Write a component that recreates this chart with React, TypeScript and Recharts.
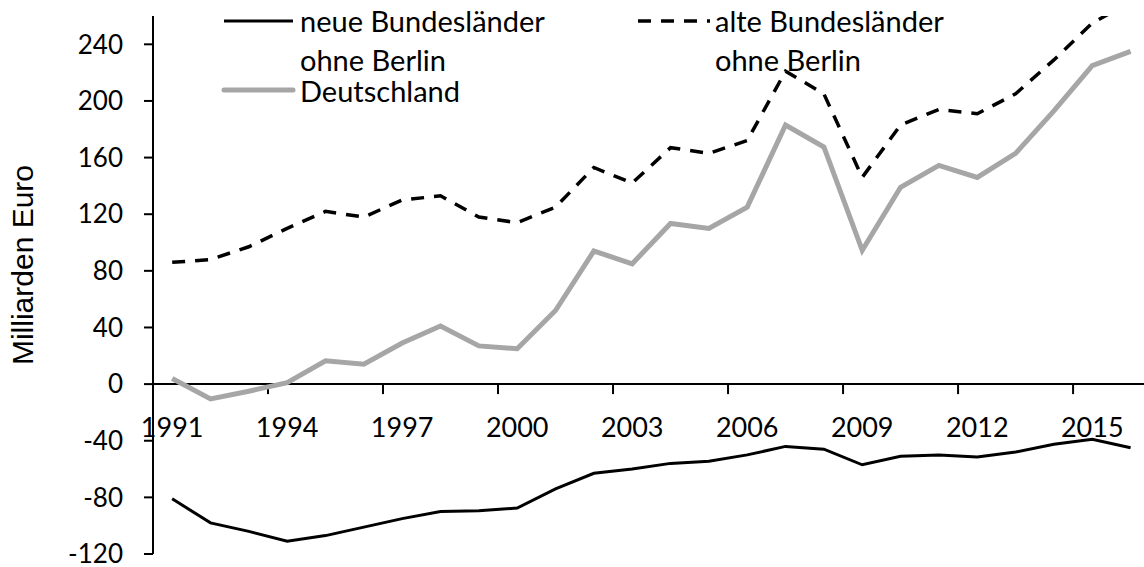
import type React from "react";
import { Line, LineChart, ReferenceLine, XAxis, YAxis } from "recharts";

// Finanzierungssaldo 1991-2016 (Milliarden Euro)
const years = [
	1991, 1992, 1993, 1994, 1995, 1996, 1997, 1998, 1999, 2000, 2001, 2002, 2003,
	2004, 2005, 2006, 2007, 2008, 2009, 2010, 2011, 2012, 2013, 2014, 2015, 2016,
];
const neueLaender = [
	-81, -98, -104, -111, -107, -101, -95, -90, -89.5, -87.5, -74, -63, -60, -56,
	-54.5, -50, -44, -46, -57, -51, -50, -51.5, -48, -42.5, -39, -45,
];
const alteLaender = [
	86, 88, 97, 110, 122, 118, 130, 133, 118, 114, 125, 153, 142, 167, 163, 172,
	221, 205, 146, 183, 194, 191, 205, 229, 255, 270,
];
const deutschland = [
	4, -10.5, -5, 1, 16.5, 14, 29, 41, 27, 25, 52, 94, 85, 113.5, 110, 125, 183,
	167.5, 94.5, 139, 154.5, 146, 163, 193, 225, 235,
];
const yTicks = [-120, -80, -40, 0, 40, 80, 120, 160, 200, 240];
const yearLabels = [1991, 1994, 1997, 2000, 2003, 2006, 2009, 2012, 2015];
// Teilstriche liegen zwischen den Kategorien
const yearBoundaries = [1993.5, 1996.5, 1999.5, 2002.5, 2005.5, 2008.5, 2011.5, 2014.5];

const NAME_NEU = ["neue Bundesländer", "ohne Berlin"];
const NAME_ALT = ["alte Bundesländer", "ohne Berlin"];
const NAME_DE = "Deutschland";
const Y_TITLE = "Milliarden Euro";

const FONT = "Lato, 'Open Sans', sans-serif";
const GREY = "#a6a6a6";

const WIDTH = 1144;
const HEIGHT = 567;
const TOP = 16;
const BOTTOM = 13;
const LEFT = 153;
const Y_MIN = -120;
const Y_MAX = 260;
const X_MIN = 1990.5;
const X_MAX = 2016.35;
const PX_PER_UNIT = (HEIGHT - TOP - BOTTOM) / (Y_MAX - Y_MIN);
const ZERO_Y = TOP + Y_MAX * PX_PER_UNIT;
// tick mark length of 10px expressed in axis units
const TICK_UNITS = 10 / PX_PER_UNIT;

const data = years.map((year, i) => ({
	year,
	neu: neueLaender[i],
	alt: alteLaender[i],
	de: deutschland[i],
}));

function YearTick(props: any): React.ReactElement {
	const { x, payload } = props;
	return (
		<text
			x={x}
			y={ZERO_Y + 42}
			textAnchor="middle"
			dominantBaseline="central"
			fontFamily={FONT}
			fontSize={27}
			fill="#000"
		>
			{payload.value}
		</text>
	);
}

function YLabel(): React.ReactElement {
	return (
		<text
			x={0}
			y={0}
			transform="translate(33, 265) rotate(-90)"
			textAnchor="middle"
			fontFamily="'Liberation Sans', Arial, sans-serif"
			fontSize={30}
			fill="#000"
		>
			{Y_TITLE}
		</text>
	);
}

function Legend(): React.ReactElement {
	const text = (x: number, y: number, s: string) => (
		<text x={x} y={y} dominantBaseline="central" fontFamily={FONT} fontSize={29} fill="#000">
			{s}
		</text>
	);
	return (
		<svg
			width={WIDTH}
			height={120}
			style={{ position: "absolute", left: 0, top: 0, pointerEvents: "none" }}
		>
			<line x1={224} x2={293} y1={21} y2={21} stroke="#000" strokeWidth={3} />
			{text(300, 20, NAME_NEU[0])}
			{text(300, 59, NAME_NEU[1])}
			<line x1={638} x2={710} y1={21} y2={21} stroke="#000" strokeWidth={3.5} strokeDasharray="13 10" />
			{text(715, 20, NAME_ALT[0])}
			{text(715, 59, NAME_ALT[1])}
			<line x1={224} x2={293} y1={90} y2={90} stroke={GREY} strokeWidth={5} strokeLinecap="round" />
			{text(300, 90, NAME_DE)}
		</svg>
	);
}

export default function App(): React.ReactElement {
	return (
		<div style={{ position: "absolute", left: 0, top: 0, width: WIDTH, height: HEIGHT, background: "#fff" }}>
			<LineChart
				width={WIDTH}
				height={HEIGHT}
				data={data}
				margin={{ top: TOP, right: 0, bottom: 0, left: 0 }}
			>
				<XAxis
					dataKey="year"
					type="number"
					domain={[X_MIN, X_MAX]}
					allowDataOverflow
					ticks={yearLabels}
					interval={0}
					height={BOTTOM}
					axisLine={false}
					tickLine={false}
					tick={YearTick}
				/>
				<YAxis
					width={LEFT}
					type="number"
					domain={[Y_MIN, Y_MAX]}
					allowDataOverflow
					ticks={yTicks}
					interval={0}
					tickSize={9}
					tickMargin={21}
					axisLine={{ stroke: "#000", strokeWidth: 2 }}
					tickLine={{ stroke: "#000", strokeWidth: 2 }}
					tick={{ fill: "#000", fontSize: 26, fontFamily: FONT }}
					label={<YLabel />}
				/>
				<ReferenceLine y={0} stroke="#000" strokeWidth={2} />
				{yearBoundaries.map((b) => (
					<ReferenceLine
						key={b}
						segment={[
							{ x: b, y: 0 },
							{ x: b, y: -TICK_UNITS },
						]}
						stroke="#000"
						strokeWidth={2}
					/>
				))}
				<Line
					type="linear"
					dataKey="de"
					stroke={GREY}
					strokeWidth={5}
					dot={false}
					activeDot={false}
					isAnimationActive={false}
				/>
				<Line
					type="linear"
					dataKey="alt"
					stroke="#000"
					strokeWidth={3.5}
					strokeDasharray="13 10"
					dot={false}
					activeDot={false}
					isAnimationActive={false}
				/>
				<Line
					type="linear"
					dataKey="neu"
					stroke="#000"
					strokeWidth={3}
					dot={false}
					activeDot={false}
					isAnimationActive={false}
				/>
			</LineChart>
			<Legend />
		</div>
	);
}
